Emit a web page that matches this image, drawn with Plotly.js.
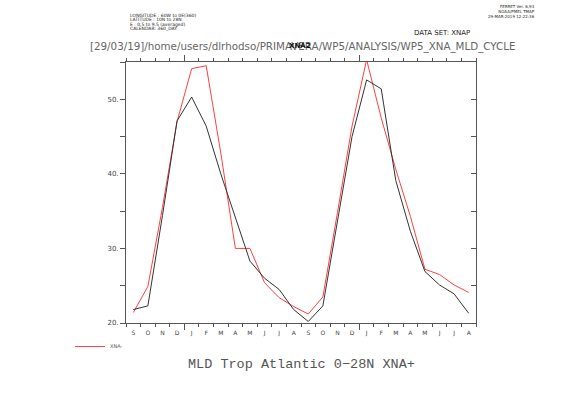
<!DOCTYPE html>
<html>
<head>
<meta charset="utf-8">
<script src="https://cdn.plot.ly/plotly-3.0.1.min.js"></script>
<style>html,body{margin:0;padding:0;background:#fff;}#chart{width:561px;height:397px;}</style>
</head>
<body>
<div id="chart"></div>
<script>
// ---- data ----
var months = ['S','O','N','D','J','F','M','A','M','J','J','A','S','O','N','D','J','F','M','A','M','J','J','A'];
var xnaPlus = [21.8, 22.3, 34.4, 47.1, 50.3, 46.4, 40.0, 34.3, 28.3, 26.0, 24.5, 21.8, 20.2, 22.3, 33.8, 45.0, 52.6, 51.4, 39.1, 32.3, 26.9, 25.1, 23.9, 21.3];
var xnaMinus = [21.4, 24.9, 35.5, 47.0, 54.1, 54.5, 42.8, 30.0, 30.0, 25.4, 23.4, 22.2, 21.2, 23.5, 34.8, 46.4, 55.3, 47.5, 40.6, 34.3, 27.2, 26.5, 25.1, 24.1];
var yTickVals = [20, 30, 40, 50];
var yTickText = ['20.', '30.', '40.', '50.'];
var yearStarts = [4, 16];

var xPos = months.map(function(m, i){ return i + 0.5; });
var axCol = '#555';
var txtCol = '#555';

var traces = [
  {x: xPos, y: xnaMinus, type: 'scatter', mode: 'lines', name: 'XNA-',
   line: {color: '#ff4040', width: 1}, xaxis: 'x', yaxis: 'y', showlegend: true},
  {x: xPos, y: xnaPlus, type: 'scatter', mode: 'lines', name: 'XNA+',
   line: {color: '#333333', width: 1}, xaxis: 'x2', yaxis: 'y2', showlegend: false}
];

var small = {family: 'DejaVu Sans', size: 4.5, color: '#222'};

var layout = {
  width: 561, height: 397,
  margin: {l: 126, r: 85, t: 62, b: 74, pad: 0},
  paper_bgcolor: '#fff', plot_bgcolor: '#fff',
  font: {family: 'DejaVu Sans', color: txtCol},
  xaxis: {
    range: [0, 24], tickmode: 'array', tickvals: xPos, ticktext: months,
    ticks: '', showgrid: false, zeroline: false, showline: true, linecolor: axCol, linewidth: 1,
    mirror: true, tickfont: {size: 6, color: '#444'}, ticklabelstandoff: 4, fixedrange: true
  },
  xaxis2: {
    overlaying: 'x', anchor: 'y2', side: 'bottom', range: [0, 24],
    tickmode: 'array', tickvals: yearStarts, ticks: 'outside', ticklen: 6, tickcolor: axCol,
    showticklabels: false, showgrid: false, zeroline: false, showline: true, linecolor: axCol,
    mirror: 'allticks',
    minor: {tickmode: 'linear', tick0: 0, dtick: 1, ticks: 'outside', ticklen: 3, tickcolor: axCol, showgrid: false}
  },
  yaxis: {
    range: [20, 55], tickmode: 'array', tickvals: yTickVals, ticktext: yTickText,
    ticks: 'outside', ticklen: 5, tickcolor: axCol, showgrid: false, zeroline: false,
    showline: true, linecolor: axCol, linewidth: 1, tickfont: {size: 7, color: '#444'},
    minor: {tickmode: 'linear', tick0: 20, dtick: 5, ticks: 'outside', ticklen: 5, tickcolor: axCol, showgrid: false}
  },
  yaxis2: {
    overlaying: 'y', anchor: 'x2', side: 'right', range: [20, 55],
    tickmode: 'linear', tick0: 20, dtick: 5, ticks: 'inside', ticklen: 5, tickcolor: axCol,
    showticklabels: false, showgrid: false, zeroline: false, showline: true, linecolor: axCol
  },
  showlegend: true,
  legend: {x: -0.16, xanchor: 'left', y: -0.09, yanchor: 'middle', font: {size: 5, color: '#555'},
           bgcolor: 'rgba(0,0,0,0)', borderwidth: 0},
  annotations: [
    {text: 'MLD Trop Atlantic 0\u221228N XNA+', xref: 'paper', yref: 'paper', x: 0.5, y: -0.16,
     xanchor: 'center', yanchor: 'middle', showarrow: false,
     font: {family: 'Liberation Mono', size: 13.5, color: '#555'}},
    {text: '[29/03/19]/home/users/dlrhodso/PRIMAVERA/WP5/ANALYSIS/WP5_XNA_MLD_CYCLE',
     xref: 'paper', yref: 'paper', x: -0.11, y: 1.06, xanchor: 'left', yanchor: 'middle', showarrow: false,
     font: {family: 'DejaVu Sans', size: 10.3, color: '#666'}},
    {text: '<b>XNA2</b>', xref: 'paper', yref: 'paper', x: 0.46, y: 1.062, xanchor: 'left', yanchor: 'middle',
     showarrow: false, font: {family: 'DejaVu Sans', size: 7, color: '#111'}},
    {text: 'DATA SET: XNAP', xref: 'paper', yref: 'paper', x: 0.817, y: 1.113, xanchor: 'left', yanchor: 'middle',
     showarrow: false, font: {family: 'DejaVu Sans', size: 7, color: '#222'}},
    {text: 'LONGITUDE : 60W to 0E(360)', xref: 'paper', yref: 'paper', x: 0.005, y: 1.18, xanchor: 'left', yanchor: 'middle',
     showarrow: false, font: small},
    {text: 'LATITUDE : 10N to 28N', xref: 'paper', yref: 'paper', x: 0.005, y: 1.162, xanchor: 'left', yanchor: 'middle',
     showarrow: false, font: small},
    {text: 'E : 0.5 to 9.5 (averaged)', xref: 'paper', yref: 'paper', x: 0.005, y: 1.144, xanchor: 'left', yanchor: 'middle',
     showarrow: false, font: small},
    {text: 'CALENDAR: 360_DAY', xref: 'paper', yref: 'paper', x: 0.005, y: 1.126, xanchor: 'left', yanchor: 'middle',
     showarrow: false, font: small},
    {text: 'FERRET Ver. 6.93<br>NOAA/PMEL TMAP<br>29-MAR-2019 12:22:36', xref: 'paper', yref: 'paper',
     x: 1.175, y: 1.192, xanchor: 'right', yanchor: 'middle', align: 'right', showarrow: false,
     font: {family: 'DejaVu Sans', size: 4, color: '#222'}}
  ]
};

Plotly.newPlot('chart', traces, layout, {displayModeBar: false, staticPlot: true});
</script>
</body>
</html>
